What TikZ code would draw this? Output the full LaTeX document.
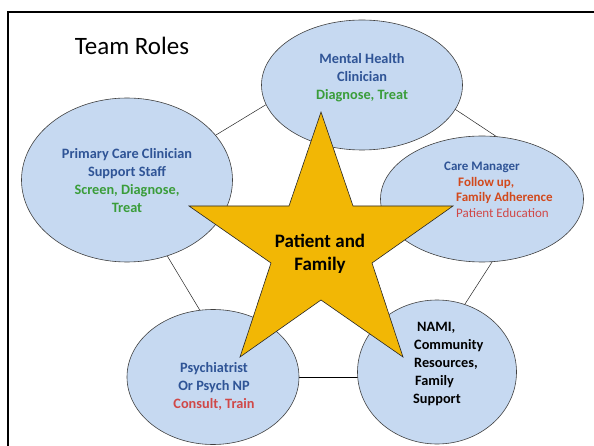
\documentclass[tikz,border=0pt]{standalone}
\usepackage{fontspec}
\setmainfont{Carlito}
\usetikzlibrary{shapes.geometric}
\definecolor{ellfill}{HTML}{C6D9F1}
\definecolor{ellline}{HTML}{404040}
\definecolor{txtblue}{HTML}{2F5496}
\definecolor{txtgreen}{HTML}{3A9D3A}
\definecolor{txtorange}{HTML}{D2491C}
\definecolor{txtred}{HTML}{D04848}
\definecolor{starfill}{HTML}{F2B705}
\begin{document}
\begin{tikzpicture}[x=1pt,y=-1pt,
  role/.style={ellipse, draw=ellline, line width=0.6pt, fill=ellfill, inner sep=0pt},
  rtext/.style={font=\fontsize{14.3}{18}\selectfont\bfseries, align=center, inner sep=0pt},
  cmtext/.style={font=\fontsize{13}{15.5}\selectfont\bfseries, align=left, inner sep=0pt, anchor=west},
  link/.style={draw=black!85, line width=0.5pt}]
\useasboundingbox (0,0) rectangle (594,446);
\clip (0,0) rectangle (594,446);
\fill[white] (0,0) rectangle (594,446);
% frame
\draw[line width=2pt] (8,470) -- (8,12) -- (620,12);
% pentagon behind the roles
\coordinate (p1) at (361,47);
\coordinate (p2) at (550,172);
\coordinate (p3) at (418,377);
\coordinate (p4) at (240,377);
\coordinate (p5) at (127,189);
\draw[link] (p1) -- (p2) -- (p3);
\draw[link] (p4) -- (p5) -- (p1);
\draw[link, draw=black, line width=0.9pt] (p3) -- (p4);
% roles
\node[role, minimum width=201pt, minimum height=130pt] (mh) at (362,85) {};
\node[role, minimum width=211pt, minimum height=164pt] (pc) at (127,180) {};
\node[role, minimum width=203pt, minimum height=126pt] (cm) at (482,199) {};
\node[role, minimum width=172pt, minimum height=135pt] (ps) at (213,377) {};
\node[role, minimum width=159pt, minimum height=144pt] (na) at (437,372) {};
% star
\filldraw[fill=starfill, draw=black!85, line width=0.6pt]
  (321,112) -- (353,206) -- (453,206) -- (372,263) -- (403,357) -- (321,300)
  -- (240,357) -- (271,263) -- (189,206) -- (289,206) -- cycle;
% texts
\node[inner sep=0pt, font=\fontsize{25}{30}\selectfont] (title) at (132,46) {Team Roles};
\node[rtext] (mht) at (362,78) {\color{txtblue}Mental Health\\ \color{txtblue}Clinician\\ \color{txtgreen}Diagnose, Treat};
\node[rtext] (pct) at (127,181) {\color{txtblue}Primary Care Clinician\\ \color{txtblue}Support Staff\\ \color{txtgreen}Screen, Diagnose,\\ \color{txtgreen}Treat};
\node[inner sep=0pt, font=\fontsize{13}{15.5}\selectfont\bfseries, text=txtblue] (cmt) at (482,167) {Care Manager};
\node[cmtext, text=txtorange] (cm1) at (458,183) {Follow up,};
\node[cmtext, text=txtorange] (cm2) at (456,198) {Family Adherence};
\node[cmtext, text=txtred, font=\fontsize{13}{15.5}\selectfont] (cm3) at (456,213) {Patient Education};
\node[rtext] (pst) at (214,386) {\color{txtblue}Psychiatrist\\ \color{txtblue}Or Psych NP\\ \color{txtred}Consult, Train};
\node[rtext, align=left, anchor=west] (nat) at (414,364) {\hspace{3pt}NAMI,\\ Community\\ Resources,\\ \hspace{1pt}Family\\ \hspace{-1pt}Support};
\node[inner sep=0pt, font=\fontsize{19}{23}\selectfont\bfseries, align=center] (pf) at (320,254) {Patient and\\ Family};
\end{tikzpicture}
\end{document}
